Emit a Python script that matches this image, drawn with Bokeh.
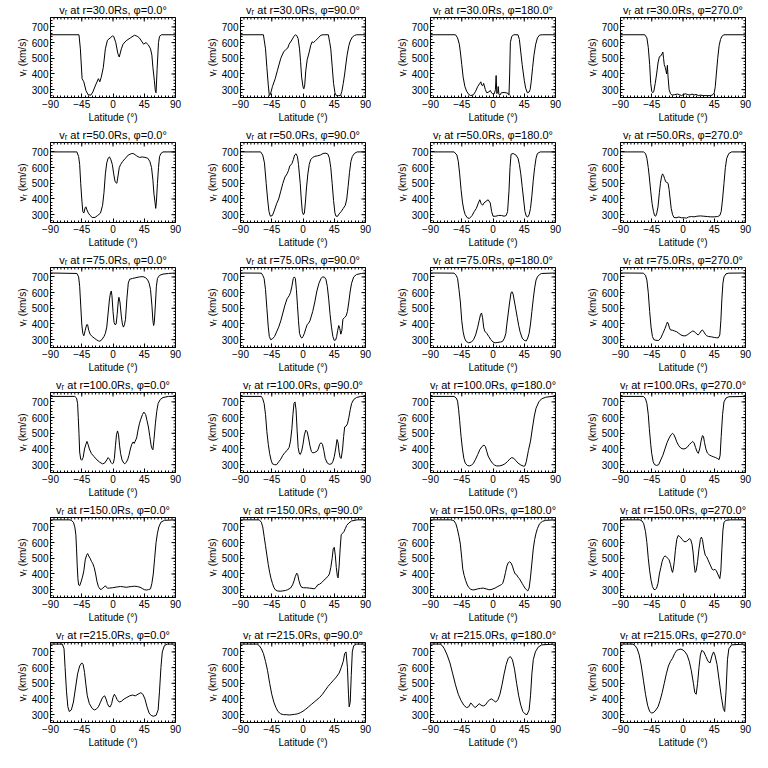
import math
from bokeh.plotting import figure
from bokeh.layouts import gridplot
from bokeh.models import FixedTicker, Range1d
from bokeh.embed import file_html
from bokeh.resources import INLINE

RADII = [30.0, 50.0, 75.0, 100.0, 150.0, 215.0]
PHIS = [0.0, 90.0, 180.0, 270.0]
X_TICKS = [-90, -45, 0, 45, 90]
Y_TICKS = [300, 400, 500, 600, 700]
X_MINOR = list(range(-90, 91, 5))
Y_MINOR = list(range(260, 761, 20))

# (latitude deg, v_r km/s), one list per panel
R30_P0 = [(-90,650),(-49,650),(-47,560),(-44.5,370),(-42,350),(-39,295),(-36,268),(-32,265),(-29,285),(-25,330),(-21,370),(-19,350),(-17,378),(-14,440),(-11,560),(-8,615),(-4,630),(-1,642),(1,640),(4,600),(7,530),(9,508),(12,560),(14.5,590),(19,612),(25,630),(31,647),(35,640),(38,630),(41,610),(44,590),(47.5,600),(51,585),(54,560),(56,520),(57.5,440),(59.5,360),(61,290),(62,280),(63.5,430),(65.5,600),(67,640),(70,650),(90,650)]
R30_P90 = [(-90,650),(-57,650),(-54,560),(-52,440),(-50,330),(-48.5,262),(-47,270),(-44,320),(-40,370),(-37,420),(-32,500),(-28,540),(-25,555),(-22,565),(-20,590),(-17,610),(-13,640),(-11,650),(-9,645),(-7,625),(-5,560),(-3.5,480),(-2,380),(0,318),(1.2,305),(2.5,330),(4,420),(6,490),(9,540),(11,580),(13,605),(15,600),(18,612),(22,630),(26,648),(30,650),(36.5,650),(38.5,600),(40,560),(42,450),(44,340),(46,280),(48,262),(51,262),(54,262),(56,290),(58,340),(60,400),(62,470),(63.5,520),(66,580),(68,610),(71,635),(74,645),(77,650),(90,650)]
R30_P180 = [(-90,650),(-54,650),(-51,630),(-48.5,590),(-47,540),(-45,460),(-43,380),(-40.5,320),(-38,290),(-35,270),(-32,262),(-28,268),(-25,290),(-22,320),(-19,340),(-17.5,350),(-16.5,330),(-15,325),(-13.5,340),(-11,300),(-9,280),(-6,285),(-4,295),(-2,280),(0,270),(2,275),(3.5,300),(4.5,390),(5.5,275),(7,290),(7.5,320),(8.5,270),(10,265),(12,280),(16,282),(19,280),(22,275),(23,265),(24,400),(25,600),(27,640),(30,650),(36,650),(38,620),(40,540),(42,460),(45,360),(47,310),(49.5,280),(52,285),(53.5,300),(55,350),(57,440),(59,520),(61.5,590),(64,630),(67,648),(71,650),(90,650)]
R30_P270 = [(-90,650),(-55,650),(-52,630),(-50,570),(-48,460),(-46.5,340),(-45,290),(-43.5,280),(-42,290),(-40,340),(-38,400),(-36,470),(-34,510),(-32,515),(-30,530),(-29,540),(-28,500),(-27,460),(-25.5,440),(-24.5,420),(-23.5,400),(-22.5,455),(-21.5,380),(-20,300),(-18,275),(-16,265),(-12,268),(-8,272),(-5,268),(-2,262),(1,270),(4,274),(7,268),(10,266),(13,272),(16,266),(19,270),(22,262),(25,265),(30,262),(35,262),(40,262),(43,268),(45,280),(46.5,320),(48,400),(50,500),(52,580),(54,620),(56,640),(59,650),(90,650)]

R50_P0 = [(-90,700),(-52,700),(-49.5,670),(-48,620),(-46.5,500),(-45,400),(-43.5,320),(-42,310),(-40,345),(-39,350),(-37.5,330),(-35.5,310),(-33,295),(-30,282),(-26,282),(-22,295),(-18,310),(-15,360),(-13,440),(-11,560),(-9,630),(-7,660),(-5,668),(-3,650),(-1,620),(1,560),(3,510),(5.5,500),(7,540),(9,600),(11,620),(14,640),(18,660),(22,680),(27,690),(30,688),(34,675),(38,665),(42,668),(46,665),(50,660),(53,640),(55.5,600),(57.5,520),(59,430),(60.5,380),(61.5,340),(62.5,380),(64,500),(65.5,600),(67,670),(69,690),(72,700),(90,700)]
R50_P90 = [(-90,700),(-61,700),(-58,680),(-55.5,630),(-53,500),(-51,400),(-49,320),(-47,290),(-44,295),(-41,330),(-38,370),(-35,400),(-32,450),(-29,500),(-26,540),(-23,560),(-21,580),(-19,610),(-16,625),(-14,650),(-12,680),(-10,688),(-8,670),(-6.5,620),(-4,500),(-2.5,400),(-1,320),(0.5,300),(2,310),(3.5,380),(5,470),(7,560),(9,620),(11,650),(14,665),(17,672),(21,675),(25,680),(29,690),(33,692),(36,685),(38,660),(40,600),(42,500),(44,390),(46,310),(47.5,290),(50,290),(52,305),(55,320),(58,340),(61,360),(63,400),(65,480),(67,570),(69,640),(71,670),(74,690),(78,700),(90,700)]
R50_P180 = [(-90,700),(-56,700),(-52,680),(-50,640),(-48,560),(-46,460),(-44,380),(-42,330),(-40,300),(-37,280),(-34,276),(-30,295),(-27,320),(-24,340),(-21,375),(-19,395),(-17,370),(-15,360),(-13,375),(-10,385),(-7,395),(-4,375),(-2,320),(0,290),(4,290),(8,295),(12,295),(16,290),(19,295),(21,320),(23,450),(24.5,600),(26,685),(29,690),(33,680),(36,660),(38,620),(40,560),(42,480),(44,400),(46,320),(48,290),(50,285),(52,300),(54,340),(56,420),(58,520),(60,600),(62,660),(64,690),(68,700),(90,700)]
R50_P270 = [(-90,700),(-57,700),(-54,690),(-52,660),(-50,600),(-48.5,540),(-46.5,450),(-44.5,370),(-42.5,320),(-41,295),(-39.5,290),(-38,305),(-36,350),(-34,440),(-32.5,500),(-31,540),(-29.5,560),(-28,550),(-26.5,530),(-25,510),(-23,505),(-21.5,500),(-20,460),(-18.5,400),(-17,340),(-15,300),(-13,282),(-10,280),(-6,285),(-2,280),(2,280),(5,278),(8,285),(12,288),(16,286),(20,290),(25,292),(30,290),(35,288),(40,286),(45,286),(50,288),(53,295),(55,320),(57,400),(59,500),(61,600),(63,660),(66,690),(70,700),(90,700)]

R75_P0 = [(-90,725),(-52,722),(-49.5,700),(-48,640),(-46.5,520),(-45,400),(-43.5,340),(-42,325),(-40,360),(-38,395),(-36.5,395),(-35,360),(-33,335),(-30,320),(-27,310),(-24,300),(-21,292),(-19,290),(-16,300),(-13,320),(-11,340),(-9,380),(-7,470),(-5,560),(-3.5,600),(-2.5,610),(-1.5,580),(0,480),(1.5,410),(3,395),(4.5,400),(6,460),(7.5,540),(8.5,570),(10,540),(12,450),(13.5,400),(15,380),(16.5,395),(18,430),(20,560),(22,660),(24,685),(28,690),(33,695),(38,700),(43,702),(47,695),(50,680),(52,660),(54,620),(56,520),(57.5,420),(58.5,390),(59.5,410),(61,520),(62.5,640),(64,690),(67,710),(72,718),(80,722),(90,725)]
R75_P90 = [(-90,725),(-60,724),(-58,710),(-56,690),(-54,620),(-52,500),(-50,380),(-48.5,320),(-46.5,300),(-44,305),(-41,320),(-38,350),(-35,380),(-32,420),(-29,470),(-26,520),(-23,560),(-20,580),(-18,600),(-16,640),(-14,690),(-12.5,700),(-11,690),(-9.5,620),(-8,520),(-6.5,420),(-5,340),(-3,315),(-1.5,310),(0,320),(2,340),(4,370),(6,395),(8,405),(10,420),(12,450),(14,480),(17,540),(20,610),(23,660),(26,690),(28,700),(31,698),(33,685),(35,640),(37,560),(39,460),(41,380),(43,320),(45,295),(47,298),(48.5,320),(50,360),(51.5,390),(53,370),(54.5,335),(56,360),(57.5,430),(59.5,440),(62,450),(64,480),(66,540),(68,610),(70,660),(73,700),(77,715),(84,722),(90,725)]
R75_P180 = [(-90,725),(-56,724),(-53,710),(-51,690),(-49,620),(-47,540),(-45,420),(-43,350),(-41,310),(-38.5,288),(-35,280),(-31,285),(-28,300),(-25,330),(-22,380),(-20,420),(-18,460),(-16.5,470),(-15,440),(-13.5,380),(-12,355),(-9,340),(-6,320),(-3,300),(0,285),(3,280),(7,282),(11,285),(14,290),(16.5,310),(18.5,340),(20,400),(22,470),(24,540),(26,600),(27.5,605),(29,590),(31,540),(33,490),(35,440),(37,390),(39,350),(42,310),(45,295),(48,292),(50,310),(52,340),(54,400),(56,480),(58,560),(60,630),(62,680),(64,700),(67,715),(70,722),(90,725)]
R75_P270 = [(-90,725),(-57,724),(-54,710),(-52,680),(-50,600),(-48,480),(-46,380),(-44,320),(-42,300),(-39,296),(-35,295),(-32,310),(-29,340),(-26,370),(-24,395),(-22.5,412),(-21,400),(-19.5,375),(-18,362),(-15,360),(-12,355),(-9,350),(-6,340),(-3,330),(0,325),(3,324),(6,330),(9,340),(12,350),(14,355),(16,352),(18,345),(20,335),(22,330),(24,340),(26,355),(28,362),(30,350),(32,335),(34,325),(37,320),(41,318),(45,314),(48,312),(51,312),(53,330),(54.5,420),(56,560),(57.5,660),(59,700),(62,720),(66,724),(90,725)]

R100_P0 = [(-90,735),(-55,735),(-52.5,725),(-51,690),(-50,600),(-49,500),(-48,380),(-46.5,335),(-45,328),(-43,345),(-41,400),(-39,430),(-37.5,448),(-36,430),(-34,400),(-31,370),(-27,350),(-23,330),(-19,315),(-15,305),(-12,310),(-9,330),(-7,345),(-5,335),(-3,315),(-1,305),(0.5,310),(2,340),(3.5,420),(5,490),(6.5,515),(8,490),(9.5,420),(11,370),(13,330),(15.5,310),(17,305),(19,315),(21,330),(23,360),(25,400),(27,430),(29,445),(30.5,435),(32,450),(34,470),(36,520),(38,560),(40,590),(42.5,620),(44.5,635),(47,620),(49,580),(51,540),(53,480),(55,420),(56.5,400),(57.5,395),(59,460),(61,560),(63,640),(65,690),(68,715),(72,728),(80,735),(90,735)]
R100_P90 = [(-90,735),(-60,735),(-58,720),(-56,690),(-54,620),(-52,510),(-50,430),(-48,370),(-46,330),(-44,305),(-41,300),(-38,300),(-35,318),(-32,335),(-29,360),(-26,378),(-23,390),(-20,410),(-18,450),(-16,530),(-14.5,620),(-13,690),(-11.5,700),(-10,650),(-8.5,520),(-7,410),(-5.5,375),(-4,365),(-2,385),(0,430),(2,490),(4,520),(6,510),(8,470),(10,420),(12,385),(14,375),(17,378),(20,385),(22,400),(24,430),(26,440),(28,430),(30,390),(32,340),(35,310),(38,302),(41,305),(43,320),(45,350),(47,400),(49,460),(50.5,440),(52,380),(53.5,345),(55,340),(57,400),(58.5,480),(60,540),(62,545),(64,560),(66,600),(68,650),(70,690),(73,715),(77,728),(83,735),(90,735)]
R100_P180 = [(-90,735),(-56,735),(-53,725),(-51,705),(-49.5,650),(-48,580),(-46,480),(-44,400),(-42,340),(-40,310),(-37,295),(-34,292),(-31,296),(-28,310),(-25,335),(-22,365),(-19,395),(-16,415),(-13,425),(-11,415),(-9,385),(-7,355),(-4,330),(-1,310),(2,298),(5,292),(9,292),(13,296),(17,305),(21,320),(24,335),(27,345),(30,340),(33,325),(36,310),(40,298),(44,290),(46,292),(48,320),(51,390),(54,450),(57,540),(59.5,610),(62,660),(66,700),(70,720),(76,730),(85,735),(90,735)]
R100_P270 = [(-90,735),(-57,735),(-54,720),(-52,690),(-50,620),(-48.5,530),(-46.5,430),(-45,370),(-43,320),(-41,300),(-38,295),(-35,300),(-32,330),(-29,360),(-26,400),(-23,440),(-20,470),(-17,492),(-15,500),(-13,490),(-11,470),(-9,445),(-6,420),(-3,405),(0,400),(3,402),(6,410),(9,428),(12,440),(14,448),(16,438),(18,410),(20,385),(22,372),(24,400),(26,450),(28,485),(29.5,480),(31,440),(33,400),(35,375),(38,362),(41,355),(44,350),(47,345),(50,338),(52,332),(53.5,360),(55,480),(57,620),(59,700),(62,725),(66,733),(90,735)]

R150_P0 = [(-90,745),(-62,745),(-59.5,740),(-57,730),(-55,700),(-53.5,650),(-52.5,560),(-51.5,450),(-50.5,370),(-49.5,330),(-48,325),(-46,350),(-44,380),(-42,420),(-40,490),(-38,520),(-36.5,530),(-35,515),(-33,500),(-31,480),(-29,465),(-27,440),(-25,400),(-23,350),(-21,320),(-19,305),(-17,300),(-15,310),(-13,315),(-11,325),(-10,318),(-8,310),(-5,310),(-1,312),(3,315),(7,318),(11,320),(15,318),(19,315),(23,318),(27,320),(31,322),(35,320),(39,315),(42,308),(45,300),(48,298),(51,300),(54,305),(56,340),(58,400),(60,500),(62,600),(64,660),(66,700),(69,730),(74,742),(90,745)]
R150_P90 = [(-90,745),(-63,745),(-60,730),(-58,700),(-56,640),(-54,580),(-52,520),(-50,460),(-48,410),(-46,370),(-44,340),(-42,315),(-40,300),(-37,292),(-33,290),(-29,292),(-25,295),(-22,300),(-18,310),(-15,330),(-13,355),(-11,385),(-9,405),(-7.5,395),(-6,360),(-4,330),(-2,315),(1,312),(5,312),(9,310),(13,308),(16,305),(19,315),(21,330),(24,335),(27,345),(30,360),(33,372),(36,385),(38,400),(40,440),(42,500),(43.5,560),(45,570),(46.5,520),(48,440),(49.5,385),(50.5,375),(52,450),(53.5,560),(55,650),(57,660),(59,670),(61,690),(63,710),(66,725),(70,738),(78,745),(90,745)]
R150_P180 = [(-90,745),(-61,745),(-58,742),(-56,738),(-53.5,720),(-51.5,690),(-49,640),(-47,590),(-45,500),(-43.5,430),(-41.5,390),(-39.5,360),(-37,330),(-35,314),(-32,302),(-29,298),(-26,300),(-22,305),(-18,308),(-14,310),(-10,305),(-6,300),(-3,300),(0,305),(3,310),(6,318),(9,325),(12,332),(14,340),(16,370),(18,410),(20,450),(22,472),(24,478),(26,470),(28,450),(30,420),(32,400),(34,395),(36,380),(38,370),(40,355),(42,340),(44,325),(46,310),(48,300),(50,292),(52,310),(54,380),(56,470),(58,560),(60,620),(62,660),(64,690),(67,720),(71,735),(76,742),(90,745)]
R150_P270 = [(-90,745),(-62,745),(-59,738),(-56.5,720),(-54,670),(-52,600),(-50,500),(-48,420),(-46,360),(-44,320),(-42,302),(-40,300),(-38,310),(-36,340),(-34,400),(-32,440),(-30,480),(-28,505),(-26,515),(-24,510),(-22,500),(-20,490),(-18,460),(-16,420),(-15,410),(-14,430),(-12.5,480),(-11,550),(-9,620),(-7,645),(-5,640),(-3,630),(-1,620),(1,608),(3,605),(5,608),(7,615),(9,625),(11,620),(13,590),(14.5,540),(16,460),(17.5,410),(19,420),(21,480),(23,560),(25,620),(26.5,635),(28,620),(30,560),(32,520),(34,510),(36,490),(38,470),(40,450),(42,430),(44,425),(46,430),(48,420),(50,400),(52,380),(53,370),(54.5,420),(56,560),(57.5,680),(59,730),(62,742),(68,745),(90,745)]

R215_P0 = [(-90,750),(-73,750),(-70.5,720),(-69,600),(-67,450),(-65,350),(-63,320),(-60,330),(-57,380),(-54,470),(-51,560),(-48,610),(-45,630),(-43,620),(-41,570),(-39,490),(-37,420),(-34,370),(-30,340),(-27,330),(-24,335),(-21,350),(-18,380),(-15,410),(-12,420),(-10,400),(-8,370),(-6,352),(-4,350),(-2,370),(0,410),(2,430),(4,415),(6,395),(9,380),(12,385),(16,400),(20,410),(24,420),(28,425),(32,420),(36,430),(40,440),(43,430),(46,400),(49,350),(52,310),(55,295),(58,290),(62,295),(65,330),(67,450),(69,600),(71,700),(74,740),(78,750),(90,750)]
R215_P90 = [(-90,750),(-66,750),(-63,740),(-60,720),(-57,690),(-54,640),(-51,580),(-48,500),(-45,430),(-42,380),(-39,345),(-36,320),(-32,305),(-28,300),(-24,300),(-20,298),(-16,300),(-12,302),(-8,305),(-4,312),(0,322),(4,335),(8,350),(12,365),(16,380),(20,395),(24,410),(28,430),(32,455),(36,480),(40,500),(44,520),(48,540),(52,565),(55,600),(58,640),(60,690),(62,700),(64,600),(65.5,430),(66.5,350),(68,380),(69.5,550),(71,700),(73,740),(77,750),(90,750)]
R215_P180 = [(-90,750),(-76,750),(-73,740),(-70,720),(-66,680),(-62,630),(-58,560),(-54,490),(-50,430),(-46,390),(-42,360),(-38,345),(-35,350),(-32,375),(-29,360),(-26,345),(-23,355),(-20,370),(-17,360),(-14,355),(-11,362),(-8,380),(-5,395),(-2,400),(1,390),(4,380),(7,395),(10,430),(13,490),(16,560),(19,620),(22,660),(25,670),(28,650),(31,590),(34,500),(37,420),(40,360),(43,320),(46,305),(49,300),(52,330),(54,420),(56,560),(58,650),(61,700),(65,730),(70,745),(90,750)]
R215_P270 = [(-90,750),(-72,750),(-69,740),(-66,720),(-63,680),(-60,610),(-57,520),(-54,430),(-51,360),(-48,320),(-45,310),(-42,315),(-39,330),(-36,350),(-33,390),(-30,440),(-27,500),(-24,560),(-21,610),(-18,640),(-15,660),(-12,690),(-9,710),(-6,715),(-3,718),(0,712),(3,700),(6,680),(9,640),(12,580),(15,500),(17,440),(19,430),(21,500),(23,600),(25,680),(27,710),(30,700),(33,670),(36,640),(39,630),(42,680),(44,700),(46,680),(49,620),(52,520),(55,420),(58,340),(60,320),(62,450),(64,650),(66,720),(70,745),(90,750)]

PANELS = [
    [R30_P0, R30_P90, R30_P180, R30_P270],
    [R50_P0, R50_P90, R50_P180, R50_P270],
    [R75_P0, R75_P90, R75_P180, R75_P270],
    [R100_P0, R100_P90, R100_P180, R100_P270],
    [R150_P0, R150_P90, R150_P180, R150_P270],
    [R215_P0, R215_P90, R215_P180, R215_P270],
]

FONT = "Liberation Sans"
XMIN, XMAX, YMIN, YMAX = -90, 90, 250, 760


def style_axis(ax, ticks, minor):
    ax.ticker = FixedTicker(ticks=ticks, minor_ticks=minor)
    ax.axis_line_color = "black"
    ax.major_tick_line_color = "black"
    ax.minor_tick_line_color = "black"
    ax.major_tick_in = 4
    ax.major_tick_out = 0
    ax.minor_tick_in = 2
    ax.minor_tick_out = 0
    ax.major_label_text_font = FONT
    ax.major_label_text_color = "black"
    ax.major_label_text_font_size = "10px"
    ax.major_label_standoff = 2
    ax.axis_label_text_font = FONT
    ax.axis_label_text_font_style = "normal"
    ax.axis_label_text_color = "black"
    ax.axis_label_text_font_size = "10px"
    ax.axis_label_standoff = 1


rows = []
for i, r in enumerate(RADII):
    row = []
    for j, phi in enumerate(PHIS):
        last = j == len(PHIS) - 1
        p = figure(
            width=182 if last else 190, height=125,
            x_range=Range1d(XMIN, XMAX), y_range=Range1d(YMIN, YMAX),
            output_backend="svg", toolbar_location=None,
            min_border_left=50, min_border_right=7 if last else 15,
            min_border_top=16, min_border_bottom=25,
            background_fill_color="white", border_fill_color="white",
            outline_line_color="black",
            title=f"v\u1d63 at r={r:.1f}Rs, \u03c6={phi:.1f}\u00b0",
        )
        p.title.text_font = FONT
        p.title.text_font_size = "11px"
        p.title.text_font_style = "normal"
        p.title.text_color = "black"
        p.title.align = "center"
        p.title.standoff = 3
        p.xgrid.visible = False
        p.ygrid.visible = False
        style_axis(p.xaxis[0], X_TICKS, X_MINOR)
        style_axis(p.yaxis[0], Y_TICKS, Y_MINOR)
        p.xaxis[0].axis_label = "Latitude (\u00b0)"
        p.yaxis[0].axis_label = "v\u1d63 (km/s)"
        # mirrored tick marks on the top and right frame edges
        p.ray(x=X_TICKS, y=YMAX, length=4, length_units="screen", angle=-math.pi / 2, line_color="black", line_width=1)
        p.ray(x=X_MINOR, y=YMAX, length=2, length_units="screen", angle=-math.pi / 2, line_color="black", line_width=1)
        p.ray(x=XMAX, y=Y_TICKS, length=4, length_units="screen", angle=math.pi, line_color="black", line_width=1)
        p.ray(x=XMAX, y=Y_MINOR, length=2, length_units="screen", angle=math.pi, line_color="black", line_width=1)
        pts = PANELS[i][j]
        p.line([a for a, _ in pts], [b for _, b in pts], line_color="black", line_width=1)
        row.append(p)
    rows.append(row)

grid = gridplot(rows, toolbar_location=None)
open("out.html", "w").write(file_html(grid, INLINE))
